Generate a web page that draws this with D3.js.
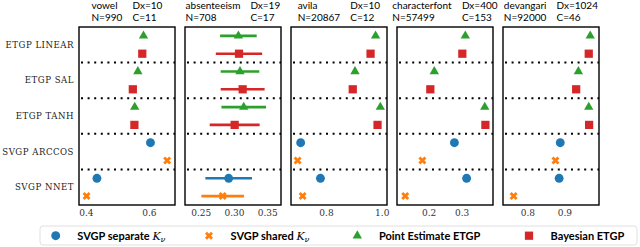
<!DOCTYPE html>
<html>
<head>
<meta charset="utf-8">
<script src="https://cdn.jsdelivr.net/npm/d3@7"></script>
<style>
  body { margin: 0; background: #fff; }
  svg { display: block; }
  .ttl { font-family: Lato, sans-serif; font-size: 10px; fill: #000; }
  .ylab { font-family: "DejaVu Serif", serif; font-size: 8.6px; fill: #222; letter-spacing: 0.5px; }
  .tick text { font-family: "DejaVu Serif", serif; font-size: 9px; fill: #333; }
  .leg { font-family: Lato, sans-serif; font-size: 11px; font-weight: bold; fill: #000; }
</style>
</head>
<body>
<div id="chart"></div>
<script>
var datasets = ["vowel", "absenteeism", "avila", "characterfont", "devangari"];
var dimX = [10, 19, 10, 400, 1024];
var sizeN = [990, 708, 20867, 57499, 92000];
var classesC = [11, 17, 12, 153, 46];
var methods = ["ETGP LINEAR", "ETGP SAL", "ETGP TANH", "SVGP ARCCOS", "SVGP NNET"];

var xDomains = [[0.378, 0.683], [0.2264, 0.3706], [0.6743, 1.019], [0.104, 0.395], [0.7343, 0.9937]];
var xTicks = [[0.4, 0.6], [0.25, 0.30, 0.35], [0.8, 1.0], [0.2, 0.3], [0.8, 0.9]];

// test accuracy, rows = dataset, cols = method (null = not run)
var pointEstimate = [
  [0.583, 0.565, 0.555, null, null],
  [0.3066, 0.309, 0.3146, null, null],
  [0.978, 0.904, 0.995, null, null],
  [0.311, 0.217, 0.370, null, null],
  [0.970, 0.938, 0.966, null, null]
];
var pointEstimateErr = [
  [0, 0, 0, 0, 0],
  [0.0275, 0.029, 0.0335, 0, 0],
  [0, 0, 0, 0, 0],
  [0, 0, 0, 0, 0],
  [0, 0, 0, 0, 0]
];
var bayesian = [
  [0.579, 0.549, 0.554, null, null],
  [0.3075, 0.313, 0.301, null, null],
  [0.960, 0.896, 0.985, null, null],
  [0.302, 0.205, 0.372, null, null],
  [0.966, 0.932, 0.967, null, null]
];
var bayesianErr = [
  [0, 0, 0, 0, 0],
  [0.0348, 0.033, 0.0375, 0, 0],
  [0, 0, 0, 0, 0],
  [0, 0, 0, 0, 0],
  [0, 0, 0, 0, 0]
];
var svgpSeparate = [
  [null, null, null, 0.605, 0.435],
  [null, null, null, null, 0.292],
  [null, null, null, 0.709, 0.780],
  [null, null, null, 0.278, 0.315],
  [null, null, null, 0.889, 0.886]
];
var svgpSeparateErr = [
  [0, 0, 0, 0, 0],
  [0, 0, 0, 0, 0.035],
  [0, 0, 0, 0, 0],
  [0, 0, 0, 0, 0],
  [0, 0, 0, 0, 0]
];
var svgpShared = [
  [null, null, null, 0.658, 0.402],
  [null, null, null, null, 0.283],
  [null, null, null, 0.698, 0.716],
  [null, null, null, 0.181, 0.129],
  [null, null, null, 0.876, 0.763]
];
var svgpSharedErr = [
  [0, 0, 0, 0, 0],
  [0, 0, 0, 0, 0.032],
  [0, 0, 0, 0, 0],
  [0, 0, 0, 0, 0],
  [0, 0, 0, 0, 0]
];

var series = [
  { name: "SVGP separate", sub: true, vals: svgpSeparate, err: svgpSeparateErr, color: "#1f77b4", symbol: d3.symbolCircle, size: 62, rot: 0, pos: -1 },
  { name: "SVGP shared", sub: true, vals: svgpShared, err: svgpSharedErr, color: "#ff7f0e", symbol: d3.symbolCross, size: 40, rot: 45, pos: 1 },
  { name: "Point Estimate ETGP", sub: false, vals: pointEstimate, err: pointEstimateErr, color: "#2ca02c", symbol: d3.symbolTriangle, size: 38, rot: 0, pos: -1 },
  { name: "Bayesian ETGP", sub: false, vals: bayesian, err: bayesianErr, color: "#d62728", symbol: d3.symbolSquare, size: 68, rot: 0, pos: 1 }
];

var W = 640, H = 247;
var mLeft = 79, mTop = 27, pw = 96, gap = 10, ph = 178;

var svg = d3.select("#chart").append("svg").attr("width", W).attr("height", H);

var y = d3.scaleBand().domain(methods).range([mTop, mTop + ph]);
var off = y.bandwidth() / 4;

// method labels
svg.append("g").selectAll("text").data(methods).join("text")
  .attr("class", "ylab")
  .attr("x", mLeft - 5)
  .attr("y", d => y(d) + y.bandwidth() / 2)
  .attr("dy", "0.35em")
  .attr("text-anchor", "end")
  .text(d => d);

datasets.forEach(function(ds, i) {
  var x0 = mLeft + i * (pw + gap);
  var g = svg.append("g").attr("transform", "translate(" + x0 + ",0)");
  var x = d3.scaleLinear().domain(xDomains[i]).range([0, pw]);

  // separators
  g.selectAll("line.sep").data(methods.slice(1)).join("line")
    .attr("class", "sep")
    .attr("x1", 2).attr("x2", pw)
    .attr("y1", d => y(d)).attr("y2", d => y(d))
    .attr("stroke", "#000").attr("stroke-width", 2)
    .attr("stroke-dasharray", "2,4.6");

  series.forEach(function(s) {
    var pts = methods.map((m, j) => ({ m: m, v: s.vals[i][j], e: s.err[i][j] }))
      .filter(d => d.v != null);
    g.selectAll(null).data(pts.filter(d => d.e > 0)).join("line")
      .attr("x1", d => x(d.v - d.e)).attr("x2", d => x(d.v + d.e))
      .attr("y1", d => y(d.m) + y.bandwidth() / 2 + s.pos * off)
      .attr("y2", d => y(d.m) + y.bandwidth() / 2 + s.pos * off)
      .attr("stroke", s.color).attr("stroke-width", 2.6);
    g.selectAll(null).data(pts).join("path")
      .attr("d", d3.symbol(s.symbol, s.size))
      .attr("transform", d => "translate(" + x(d.v) + "," + (y(d.m) + y.bandwidth() / 2 + s.pos * off) + ") rotate(" + s.rot + ")")
      .attr("fill", s.color);
  });

  g.append("rect").attr("x", 0).attr("y", mTop).attr("width", pw).attr("height", ph)
    .attr("fill", "none").attr("stroke", "#000").attr("stroke-width", 1.4);

  g.append("g").attr("transform", "translate(0," + (mTop + ph) + ")")
    .call(d3.axisBottom(x).tickValues(xTicks[i]).tickSize(0).tickPadding(5)
      .tickFormat(d3.format(i == 1 ? ".2f" : ".1f")))
    .call(a => a.select(".domain").remove());

  // two-column title
  var t = g.append("g");
  var c1 = t.append("g");
  c1.append("text").attr("class", "ttl").attr("y", 8.5).text(ds);
  c1.append("text").attr("class", "ttl").attr("y", 20.5).text("N=" + sizeN[i]);
  var cw = c1.node().getBBox().width;
  var c2 = t.append("g").attr("transform", "translate(" + (cw + 10) + ",0)");
  c2.append("text").attr("class", "ttl").attr("y", 8.5).text("Dx=" + dimX[i]);
  c2.append("text").attr("class", "ttl").attr("y", 20.5).text("C=" + classesC[i]);
  var tw = t.node().getBBox().width;
  t.attr("transform", "translate(" + ((pw - tw) / 2) + ",0)");
});

// legend
var lg = svg.append("g").attr("transform", "translate(40,226)");
lg.append("rect").attr("width", 597).attr("height", 19).attr("rx", 3)
  .attr("fill", "#fff").attr("stroke", "#d8d8d8").attr("stroke-width", 0.8);
var legCols = [15.7, 169, 317.3, 489];
series.forEach(function(s, k) {
  var it = lg.append("g").attr("transform", "translate(" + legCols[k] + ",9.7)");
  it.append("path").attr("d", d3.symbol(s.symbol, s.size)).attr("transform", "rotate(" + s.rot + ")").attr("fill", s.color);
  var tx = it.append("text").attr("class", "leg").attr("x", 21.6).attr("dy", "0.36em").text(s.name + " ");
  if (s.sub) {
    tx.append("tspan").attr("font-family", "'DejaVu Serif', serif").attr("font-style", "italic").attr("font-weight", "normal").text("K");
    tx.append("tspan").attr("font-family", "'DejaVu Serif', serif").attr("font-style", "italic").attr("font-weight", "normal")
      .attr("font-size", "8px").attr("dy", "2.5").text("ν");
  }
});
</script>
</body>
</html>
